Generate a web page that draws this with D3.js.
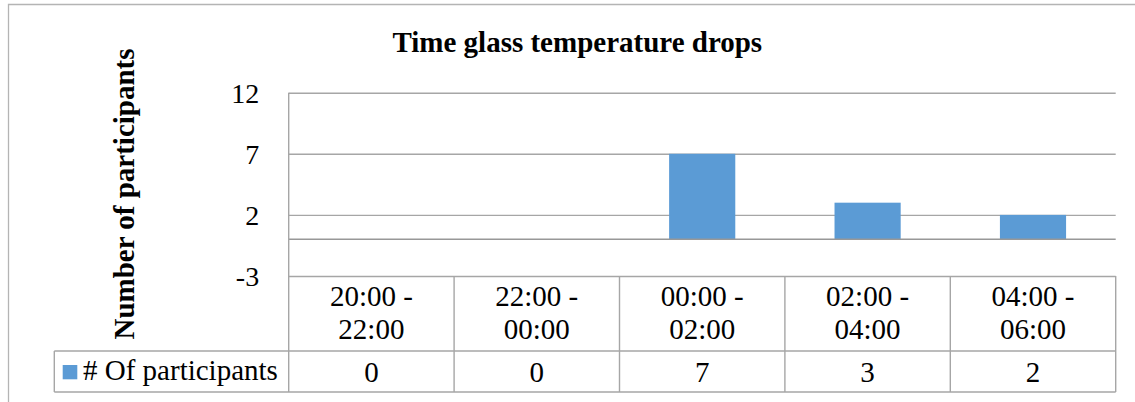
<!DOCTYPE html>
<html>
<head>
<meta charset="utf-8">
<script src="https://cdn.jsdelivr.net/npm/d3@7"></script>
<style>
  html, body { margin: 0; padding: 0; background: #fff; }
  svg text { font-family: "Liberation Serif", "Times New Roman", serif; fill: #000; }
</style>
</head>
<body>
<svg id="chart" width="1135" height="402"></svg>
<script>
// chart data
const title = "Time glass temperature drops";
const yTitle = "Number of participants";
const seriesName = "# Of participants";
const categories = ["20:00 - 22:00", "22:00 - 00:00", "00:00 - 02:00", "02:00 - 04:00", "04:00 - 06:00"];
const participants = [0, 0, 7, 3, 2];
const yTicks = [12, 7, 2, -3];
const yDomain = [-3, 12];

const FONT = "Liberation Serif, Times New Roman, serif";
const svg = d3.select("#chart").attr("font-family", FONT);
const W = 1135, H = 402;
const plot = { l: 288.7, r: 1115.7, t: 92.7, b: 276 };
const table = { rowMid: 351, bottom: 392, legendL: 54.3 };
const barColor = "#5b9bd5", lineColor = "#a6a6a6";

// outer chart frame (only top and left visible in the crop)
svg.append("path").attr("d", `M8.5,${H} V4.5 H${W}`)
  .attr("fill", "none").attr("stroke", "#b4b4b4").attr("stroke-width", 1.3);

const y = d3.scaleLinear().domain(yDomain).range([plot.b, plot.t]);
const x = d3.scaleBand().domain(categories).range([plot.l, plot.r])
  .paddingInner(0.6).paddingOuter(0.3);
const col = d3.scaleBand().domain(categories).range([plot.l, plot.r]).padding(0);

// gridlines + tick labels (plain hyphen for negatives, like the source)
const yAxis = svg.append("g").attr("transform", `translate(${plot.l},0)`)
  .call(d3.axisLeft(y).tickValues(yTicks).tickFormat(d => String(d))
    .tickSize(-(plot.r - plot.l)).tickPadding(30));
yAxis.attr("font-family", FONT).attr("font-size", 28);
yAxis.select(".domain").remove();
yAxis.selectAll(".tick line").attr("stroke", lineColor).attr("stroke-width", 1.4);
yAxis.selectAll(".tick text").attr("dy", "0.34em").attr("x", -29.5);

// bars
svg.append("g").selectAll("rect").data(participants).join("rect")
  .attr("x", (d, i) => x(categories[i]))
  .attr("width", x.bandwidth())
  .attr("y", d => y(Math.max(0, d)))
  .attr("height", d => Math.abs(y(d) - y(0)))
  .attr("fill", barColor);

// zero (category axis) line
svg.append("line").attr("x1", plot.l).attr("x2", plot.r)
  .attr("y1", y(0)).attr("y2", y(0))
  .attr("stroke", "#989898").attr("stroke-width", 1.5);

// data table grid
const grid = svg.append("g").attr("stroke", lineColor).attr("stroke-width", 1.4).attr("fill", "none");
grid.append("line").attr("x1", plot.l).attr("x2", plot.l).attr("y1", plot.t).attr("y2", table.bottom);
categories.forEach(c => {
  const xr = col(c) + col.bandwidth();
  grid.append("line").attr("x1", xr).attr("x2", xr).attr("y1", plot.b).attr("y2", table.bottom);
});
grid.append("line").attr("x1", table.legendL).attr("x2", plot.r).attr("y1", table.rowMid).attr("y2", table.rowMid);
grid.append("line").attr("x1", table.legendL).attr("x2", plot.r).attr("y1", table.bottom).attr("y2", table.bottom);
grid.append("line").attr("x1", table.legendL).attr("x2", table.legendL).attr("y1", table.rowMid).attr("y2", table.bottom);

// category labels (two lines each)
const catG = svg.append("g").attr("font-size", 29).attr("text-anchor", "middle");
categories.forEach(c => {
  const parts = c.split(" - ");
  const cx = col(c) + col.bandwidth() / 2;
  const t = catG.append("text").attr("x", cx).attr("y", 306);
  t.append("tspan").attr("x", cx).text(parts[0] + " -");
  t.append("tspan").attr("x", cx).attr("dy", 33.3).text(parts[1]);
});

// values row
svg.append("g").attr("font-size", 29).attr("text-anchor", "middle")
  .selectAll("text").data(participants).join("text")
  .attr("x", (d, i) => col(categories[i]) + col.bandwidth() / 2)
  .attr("y", 381.5).text(d => d);

// legend key in table
svg.append("rect").attr("x", 62.7).attr("y", 365).attr("width", 14.6).attr("height", 14.3).attr("fill", barColor);
svg.append("text").attr("x", 83).attr("y", 380).attr("font-size", 29).text(seriesName);

// titles
svg.append("text").attr("x", 577.3).attr("y", 51.5).attr("text-anchor", "middle")
  .attr("font-size", 29).attr("font-weight", "bold").text(title);
svg.append("text").attr("transform", "translate(134,194) rotate(-90)")
  .attr("text-anchor", "middle").attr("font-size", 29).attr("font-weight", "bold").text(yTitle);
</script>
</body>
</html>
